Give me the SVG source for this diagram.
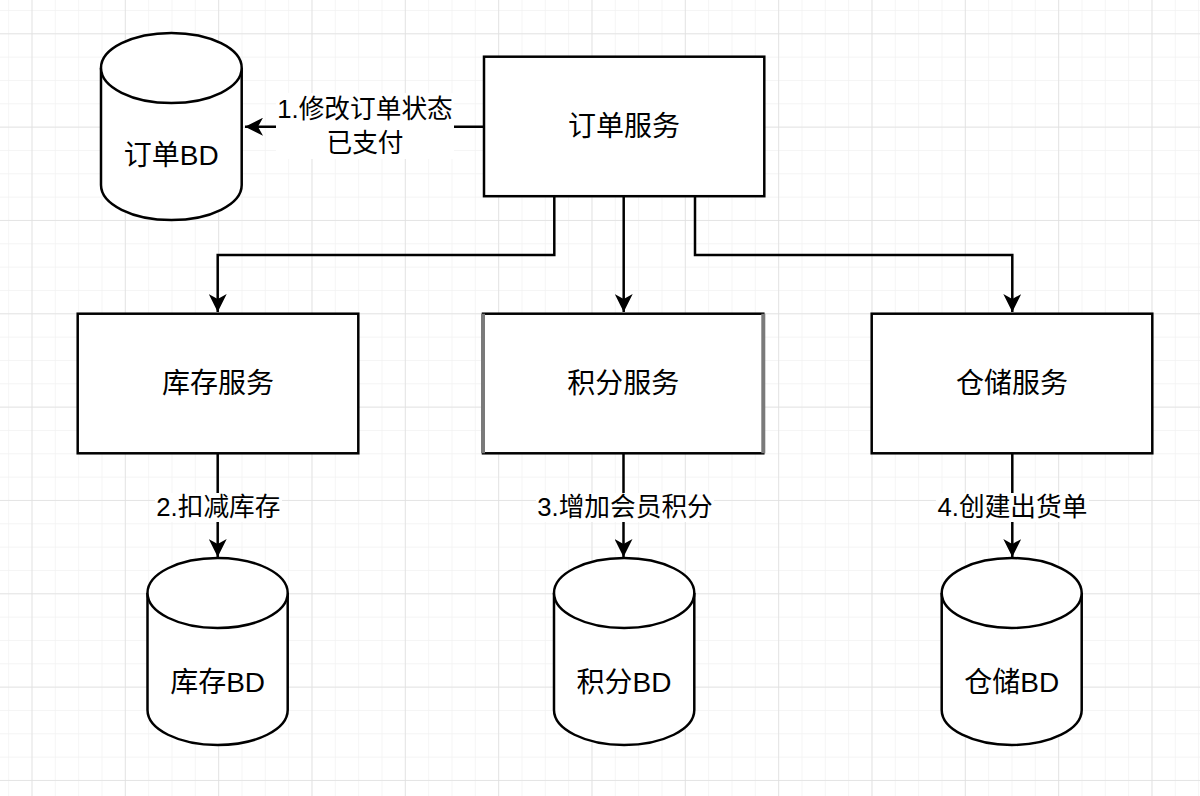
<svg xmlns="http://www.w3.org/2000/svg" width="1200" height="796" viewBox="0 0 1200 796">
<style>
.box{fill:#fff;stroke:#000;stroke-width:2.5}
.cyl{fill:#fff;stroke:#000;stroke-width:2.5}
.t{font-family:"Liberation Sans","Noto Sans CJK SC",sans-serif;font-size:28px;fill:#000;text-anchor:middle;dominant-baseline:central}
.lbl{font-family:"Liberation Sans","Noto Sans CJK SC",sans-serif;font-size:25.7px;fill:#000;text-anchor:middle;dominant-baseline:central}
.edge{fill:none;stroke:#000;stroke-width:2.5}
.bg{fill:#fff}
</style>
<defs>
<pattern id="minor" patternUnits="userSpaceOnUse" x="31.5" y="33.3" width="23.333" height="23.333">
<path d="M0 0H23.333M0 0V23.333" stroke="#f1f1f1" stroke-width="1.4" fill="none"/>
</pattern>
<pattern id="major" patternUnits="userSpaceOnUse" x="31.5" y="33.3" width="93.333" height="93.333">
<path d="M0 0H93.333M0 0V93.333" stroke="#e0e0e0" stroke-width="1.6" fill="none"/>
</pattern>
<marker id="arr" markerUnits="userSpaceOnUse" viewBox="0 0 18 18" refX="18" refY="9" markerWidth="18" markerHeight="18" orient="auto">
<path d="M0,0 L18,9 L0,18 L5,9 Z" fill="#000"/>
</marker>
</defs>
<rect width="1200" height="796" fill="#fff"/>
<rect width="1200" height="796" fill="url(#minor)"/>
<rect width="1200" height="796" fill="url(#major)"/>

<g id="connectors">
<path class="edge" d="M484,126.7 H245" marker-end="url(#arr)"/>
<path class="edge" d="M554.3,196 V255 H217.7 V312" marker-end="url(#arr)"/>
<path class="edge" d="M623.7,196 V312" marker-end="url(#arr)"/>
<path class="edge" d="M695,196 V255 H1012.3 V312" marker-end="url(#arr)"/>
<path class="edge" d="M217.7,453.3 V557" marker-end="url(#arr)"/>
<path class="edge" d="M623.5,453.3 V557" stroke="#555" marker-end="url(#arr)"/>
<path class="edge" d="M1012.3,453.3 V557" marker-end="url(#arr)"/>
<rect class="bg" x="276" y="93" width="178" height="66"/>
<text class="lbl" x="365" y="109">1.修改订单状态</text>
<text class="lbl" x="365" y="143">已支付</text>
<rect class="bg" x="155" y="493" width="127" height="29"/>
<text class="lbl" x="218.4" y="507">2.扣减库存</text>
<rect class="bg" x="536" y="493" width="178" height="29"/>
<text class="lbl" x="625" y="507">3.增加会员积分</text>
<rect class="bg" x="936" y="493" width="153" height="29"/>
<text class="lbl" x="1012.5" y="507">4.创建出货单</text>
</g>

<g id="order-service">
<rect class="box" x="484" y="56.7" width="280.3" height="139.5"/>
<text class="t" x="624" y="126.5">订单服务</text>
</g>

<g id="order-db">
<path class="cyl" d="M101,68 A70.3,35 0 0 1 241.7,68 V185 A70.3,35 0 0 1 101,185 Z"/>
<path class="cyl" d="M101,68 A70.3,35 0 0 0 241.7,68" fill="none"/>
<text class="t" x="171.3" y="155">订单BD</text>
</g>

<g id="stock-service">
<rect class="box" x="77.7" y="313.7" width="280.6" height="139.6"/>
<text class="t" x="218" y="383">库存服务</text>
</g>

<g id="points-service">
<rect class="box" x="483" y="313.7" width="280.3" height="139.6"/>
<path d="M483,313.7 V453.3 M763.3,313.7 V453.3" stroke="#7a7a7a" stroke-width="4" fill="none"/>
<text class="t" x="623.3" y="383">积分服务</text>
</g>

<g id="warehouse-service">
<rect class="box" x="871.7" y="313.7" width="280.6" height="139.6"/>
<text class="t" x="1012" y="383">仓储服务</text>
</g>

<g id="stock-db">
<path class="cyl" d="M147.5,593 A70.1,35 0 0 1 287.7,593 V710 A70.1,35 0 0 1 147.5,710 Z"/>
<path class="cyl" d="M147.5,593 A70.1,35 0 0 0 287.7,593" fill="none"/>
<text class="t" x="217.6" y="682">库存BD</text>
</g>

<g id="points-db">
<path class="cyl" d="M554,593 A70.15,35 0 0 1 694.3,593 V710 A70.15,35 0 0 1 554,710 Z"/>
<path class="cyl" d="M554,593 A70.15,35 0 0 0 694.3,593" fill="none"/>
<text class="t" x="624" y="682">积分BD</text>
</g>

<g id="warehouse-db">
<path class="cyl" d="M941.7,593 A70,35 0 0 1 1081.7,593 V710 A70,35 0 0 1 941.7,710 Z"/>
<path class="cyl" d="M941.7,593 A70,35 0 0 0 1081.7,593" fill="none"/>
<text class="t" x="1011.7" y="682">仓储BD</text>
</g>
</svg>
